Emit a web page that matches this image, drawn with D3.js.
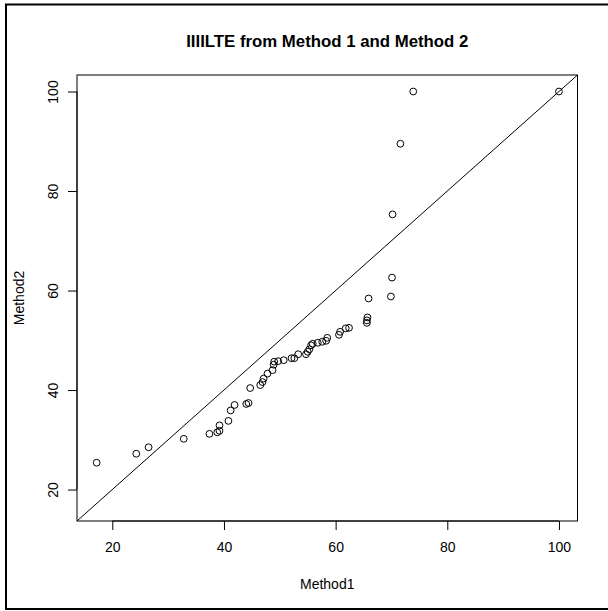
<html>
<head>
<meta http-equiv="Content-Type" content="text/html; charset=utf-8">
<title>Method 1 vs Method 2</title>
<script src="https://d3js.org/d3.v7.min.js"></script>
<style>
body, html{
  margin: 0;
  padding: 0;
  background: white;
  overflow: hidden;
}
text{
  font-family: "Liberation Sans", Arial, Helvetica, sans-serif;
  fill: black;
}
</style>
</head>
<body>
<div id="chart"></div>
<script type="text/javascript">

// values
var method1 = [17.2, 24.3, 26.5, 32.8, 37.4, 38.8, 39.2, 39.2, 40.8, 41.2,
               41.9, 44.0, 44.4, 44.7, 46.5, 46.9, 47.1, 47.8, 48.7, 48.9,
               49.0, 49.7, 50.7, 52.1, 52.6, 53.3, 54.7, 55.0, 55.3, 55.6,
               55.9, 56.8, 57.6, 58.3, 58.5, 60.6, 60.8, 61.8, 62.4, 65.6,
               65.6, 65.7, 65.9, 69.9, 70.1, 70.2, 71.6, 73.9, 100]
var method2 = [25.4, 27.2, 28.5, 30.2, 31.2, 31.5, 31.8, 32.9, 33.8, 35.9,
               37.0, 37.2, 37.4, 40.4, 41.0, 41.6, 42.3, 43.3, 44.0, 45.1,
               45.7, 45.8, 46.0, 46.4, 46.4, 47.2, 47.2, 47.7, 48.2, 49.0,
               49.3, 49.5, 49.7, 49.9, 50.5, 51.1, 51.7, 52.4, 52.5, 53.5,
               54.0, 54.6, 58.4, 58.8, 62.6, 75.3, 89.5, 100, 100]
var xTicks = [20, 40, 60, 80, 100]
var yTicks = [20, 40, 60, 80, 100]
var axisRange = [13.68, 103.32]

var W = 608, H = 611
var plot = {left: 77, right: 577.5, top: 75, bottom: 521}

var svg = d3.select("#chart").append("svg")
  .attr("width", W)
  .attr("height", H)

// outer border of the device
svg.append("rect")
  .attr("x", 6).attr("y", 4.5)
  .attr("width", 612).attr("height", 604.5)
  .style("fill", "none")
  .style("stroke", "black")
  .style("stroke-width", 2)

var x = d3.scaleLinear().domain(axisRange).range([plot.left, plot.right])
var y = d3.scaleLinear().domain(axisRange).range([plot.bottom, plot.top])

var data = method1.map(function(d, i){ return {m1: d, m2: method2[i]} })

// y = x reference line, clipped to the box
svg.append("clipPath").attr("id", "clip")
  .append("rect")
  .attr("x", plot.left).attr("y", plot.top)
  .attr("width", plot.right - plot.left).attr("height", plot.bottom - plot.top)

svg.append("line")
  .attr("clip-path", "url(#clip)")
  .attr("x1", x(axisRange[0])).attr("y1", y(axisRange[0]))
  .attr("x2", x(axisRange[1])).attr("y2", y(axisRange[1]))
  .style("stroke", "black")
  .style("stroke-width", 1)

svg.selectAll(".pt")
  .data(data)
  .enter().append("circle")
    .attr("class", "pt")
    .attr("cx", function(d){ return x(d.m1) })
    .attr("cy", function(d){ return y(d.m2) })
    .attr("r", 3.4)
    .style("fill", "none")
    .style("stroke", "black")
    .style("stroke-width", 1)

// box
svg.append("rect")
  .attr("x", plot.left).attr("y", plot.top)
  .attr("width", plot.right - plot.left).attr("height", plot.bottom - plot.top)
  .style("fill", "none")
  .style("stroke", "black")
  .style("stroke-width", 1)

var xAxis = svg.append("g")
  .attr("transform", "translate(0," + plot.bottom + ")")
  .call(d3.axisBottom(x).tickValues(xTicks).tickSize(9).tickPadding(12).tickFormat(d3.format("d")))
xAxis.select(".domain")
  .attr("d", "M" + x(xTicks[0]) + ",0H" + x(xTicks[xTicks.length - 1]))
xAxis.selectAll("text")
  .style("font-size", "14px")
  .style("font-family", "Liberation Sans, Arial, sans-serif")

var yAxis = svg.append("g")
  .attr("transform", "translate(" + plot.left + ",0)")
  .call(d3.axisLeft(y).tickValues(yTicks).tickSize(9).tickFormat(d3.format("d")))
yAxis.select(".domain")
  .attr("d", "M0," + y(yTicks[0]) + "V" + y(yTicks[yTicks.length - 1]))
// R draws the y labels parallel to the axis
yAxis.selectAll(".tick text")
  .attr("x", 0)
  .attr("y", -19)
  .attr("dy", null)
  .attr("transform", "rotate(-90)")
  .attr("text-anchor", "middle")
  .style("font-size", "14px")
  .style("font-family", "Liberation Sans, Arial, sans-serif")

// titles
svg.append("text")
  .attr("x", (plot.left + plot.right) / 2)
  .attr("y", 47)
  .attr("text-anchor", "middle")
  .style("font-size", "16.8px")
  .style("font-weight", "bold")
  .text("IIIILTE from Method 1 and Method 2")

svg.append("text")
  .attr("x", (plot.left + plot.right) / 2)
  .attr("y", 589)
  .attr("text-anchor", "middle")
  .style("font-size", "14px")
  .text("Method1")

svg.append("text")
  .attr("transform", "translate(24," + ((plot.top + plot.bottom) / 2) + ") rotate(-90)")
  .attr("text-anchor", "middle")
  .style("font-size", "14px")
  .text("Method2")

</script>
</body>
</html>
